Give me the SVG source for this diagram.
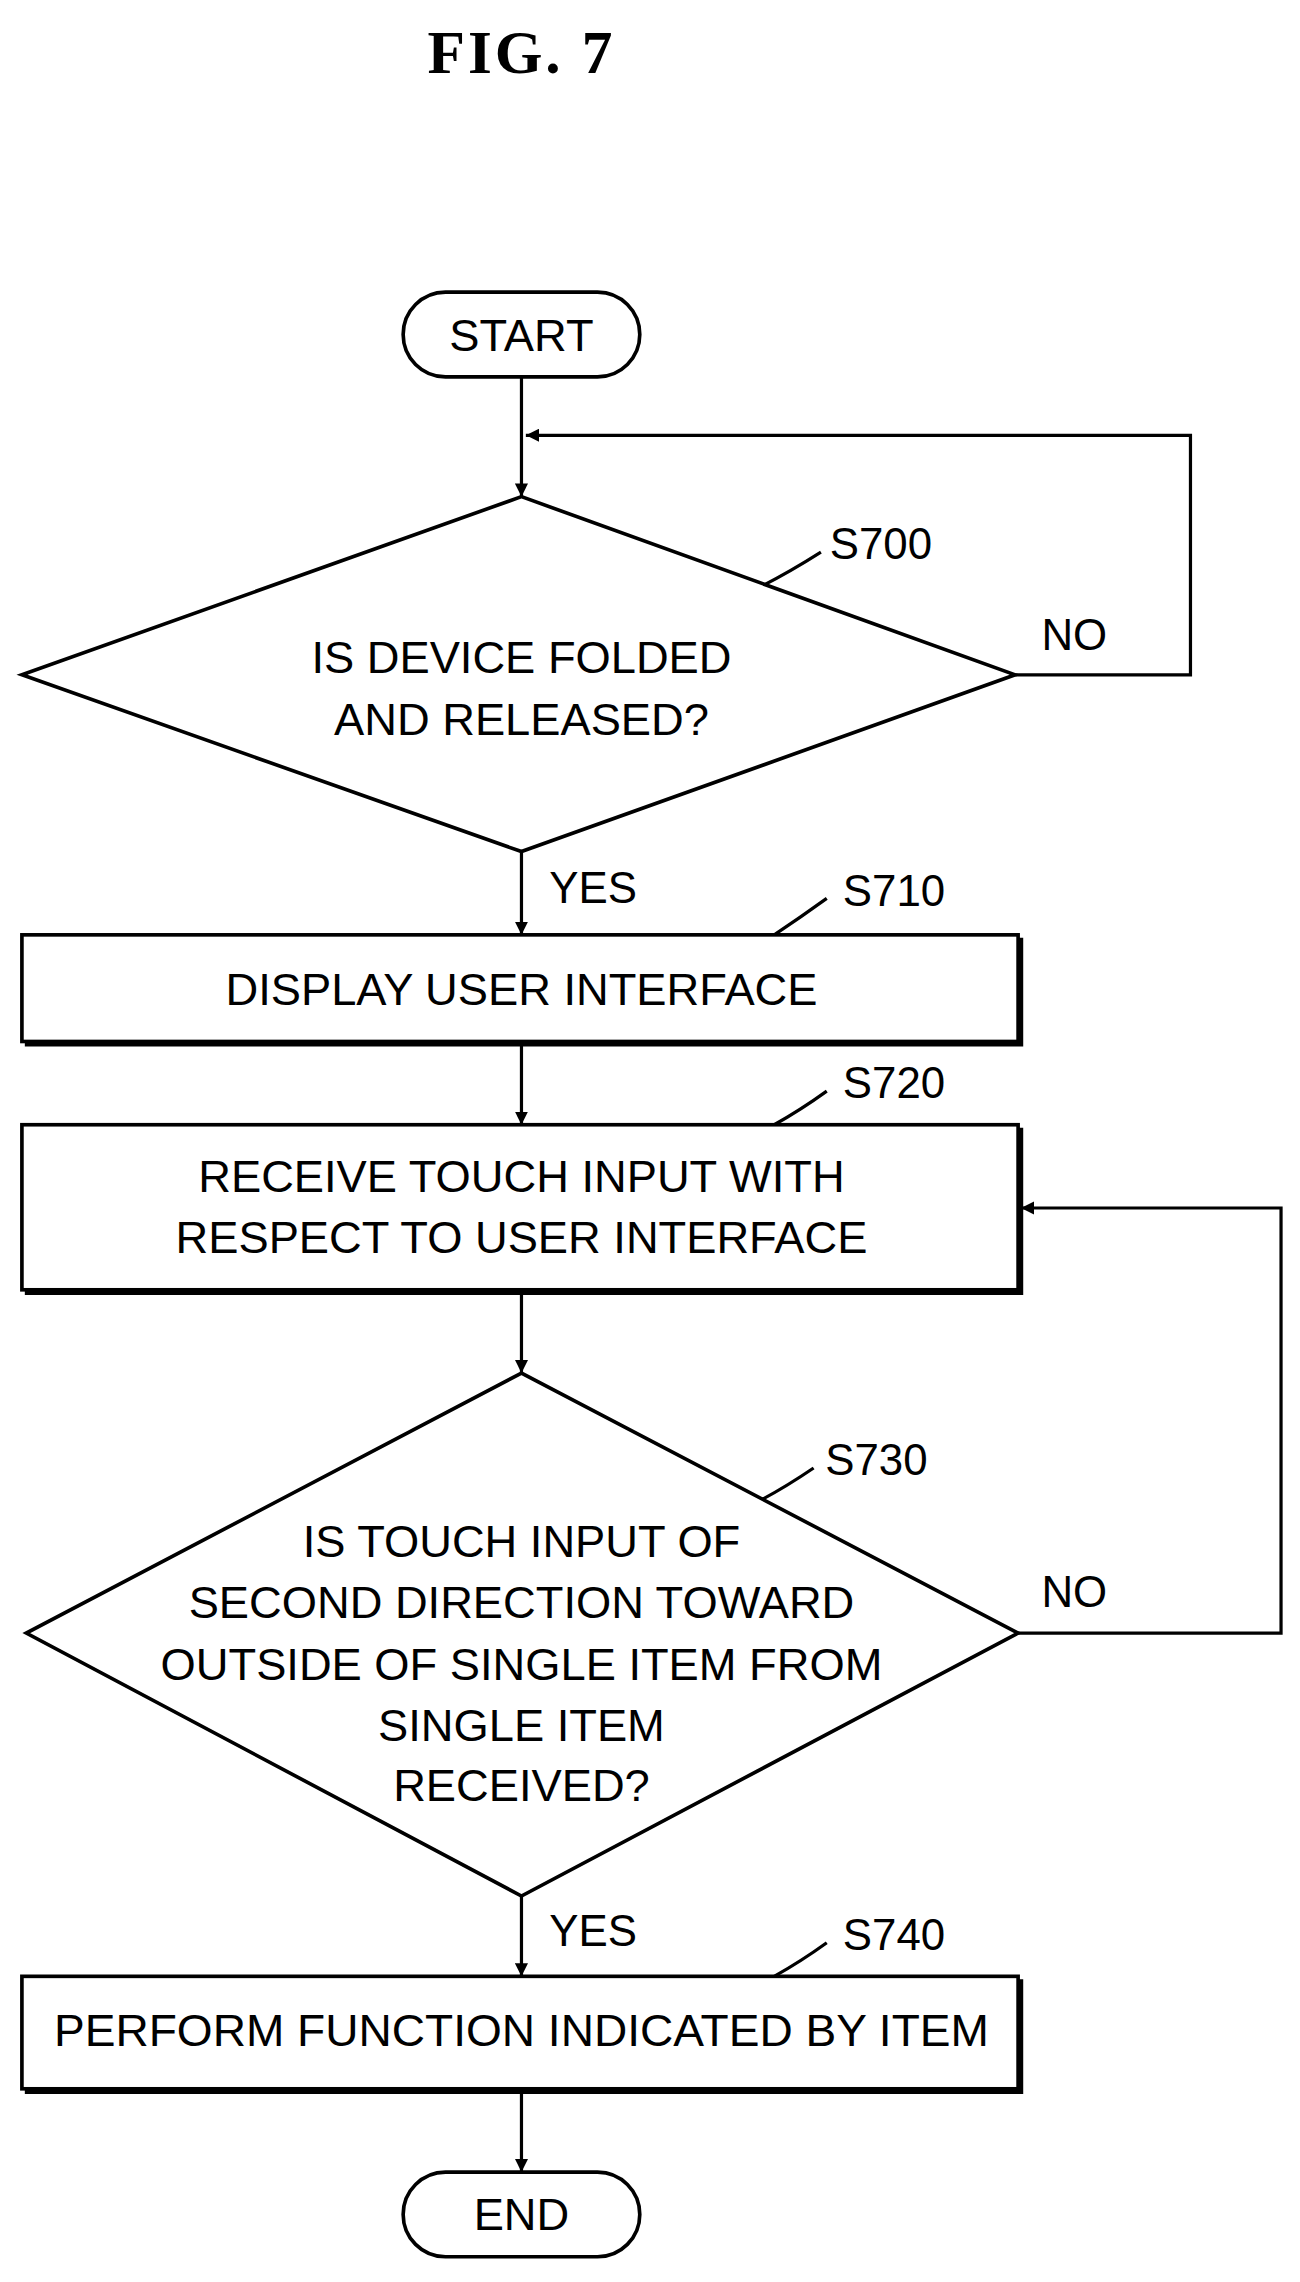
<svg xmlns="http://www.w3.org/2000/svg" width="1300" height="2282" viewBox="0 0 1300 2282">
<style>
.s{fill:none;stroke:#000;stroke-width:2.2}
.b{fill:#fff;stroke:#000;stroke-width:2.5}
.t{font-family:"Liberation Sans",Arial,sans-serif;font-size:31px;text-anchor:middle;fill:#000}
.l{font-family:"Liberation Sans",Arial,sans-serif;font-size:30px;fill:#000}
</style>
<defs><marker id="a" viewBox="0 0 10 10" refX="10" refY="5" markerWidth="9" markerHeight="9" orient="auto" markerUnits="userSpaceOnUse"><path d="M0,0L10,5L0,10z"/></marker></defs>
<rect width="1300" height="2282" fill="#fff"/>
<g transform="scale(1.4607)">
<text x="357" y="50" style="font-family:'Liberation Serif',serif;font-size:42px;font-weight:bold;text-anchor:middle;letter-spacing:2px">FIG.  7</text>
<g id="connectors">
<path class="s" d="M357,258V340" marker-end="url(#a)"/>
<path class="s" d="M695,462H815V298H360" marker-end="url(#a)"/>
<path class="s" d="M357,583V640" marker-end="url(#a)"/>
<path class="s" d="M357,713V770" marker-end="url(#a)"/>
<path class="s" d="M357,883V940" marker-end="url(#a)"/>
<path class="s" d="M697,1118H877V827H699" marker-end="url(#a)"/>
<path class="s" d="M357,1298V1353" marker-end="url(#a)"/>
<path class="s" d="M357,1430V1487" marker-end="url(#a)"/>
<path class="s" d="M562,378Q540,392 520,402"/>
<path class="s" d="M566,615Q548,628 530,640"/>
<path class="s" d="M566,747Q548,760 530,770"/>
<path class="s" d="M557,1005Q535,1020 515,1030"/>
<path class="s" d="M566,1330Q548,1343 530,1353"/>
</g>
<g id="start"><rect class="b" x="276" y="200" width="162" height="58" rx="29"/><text class="t" x="357" y="240">START</text></g>
<g id="s700"><path class="b" d="M357,340L15,462L357,583L695,462Z"/><text class="t" x="357" y="461">IS DEVICE FOLDED</text><text class="t" x="357" y="503">AND RELEASED?</text><text class="l" x="568" y="383">S700</text><text class="l" x="713" y="445">NO</text><text class="l" x="376" y="618">YES</text></g>
<g id="s710"><rect class="b" x="15" y="640" width="682" height="73"/><path class="s" d="M17,715H699V642" style="stroke-width:3"/><text class="t" x="357" y="688">DISPLAY USER INTERFACE</text><text class="l" x="577" y="620">S710</text></g>
<g id="s720"><rect class="b" x="15" y="770" width="682" height="113"/><path class="s" d="M17,885H699V772" style="stroke-width:3"/><text class="t" x="357" y="816">RECEIVE TOUCH INPUT WITH</text><text class="t" x="357" y="858">RESPECT TO USER INTERFACE</text><text class="l" x="577" y="752">S720</text></g>
<g id="s730"><path class="b" d="M357,940L18,1118L357,1298L697,1118Z"/><text class="t" x="357" y="1066">IS TOUCH INPUT OF</text><text class="t" x="357" y="1108">SECOND DIRECTION TOWARD</text><text class="t" x="357" y="1150">OUTSIDE OF SINGLE ITEM FROM</text><text class="t" x="357" y="1192">SINGLE ITEM</text><text class="t" x="357" y="1233">RECEIVED?</text><text class="l" x="565" y="1010">S730</text><text class="l" x="713" y="1100">NO</text><text class="l" x="376" y="1332">YES</text></g>
<g id="s740"><rect class="b" x="15" y="1353" width="682" height="77"/><path class="s" d="M17,1432H699V1355" style="stroke-width:3"/><text class="t" x="357" y="1401" textLength="640" lengthAdjust="spacingAndGlyphs">PERFORM FUNCTION INDICATED BY ITEM</text><text class="l" x="577" y="1335">S740</text></g>
<g id="end"><rect class="b" x="276" y="1487" width="162" height="58" rx="29"/><text class="t" x="357" y="1527">END</text></g>
</g>
</svg>
